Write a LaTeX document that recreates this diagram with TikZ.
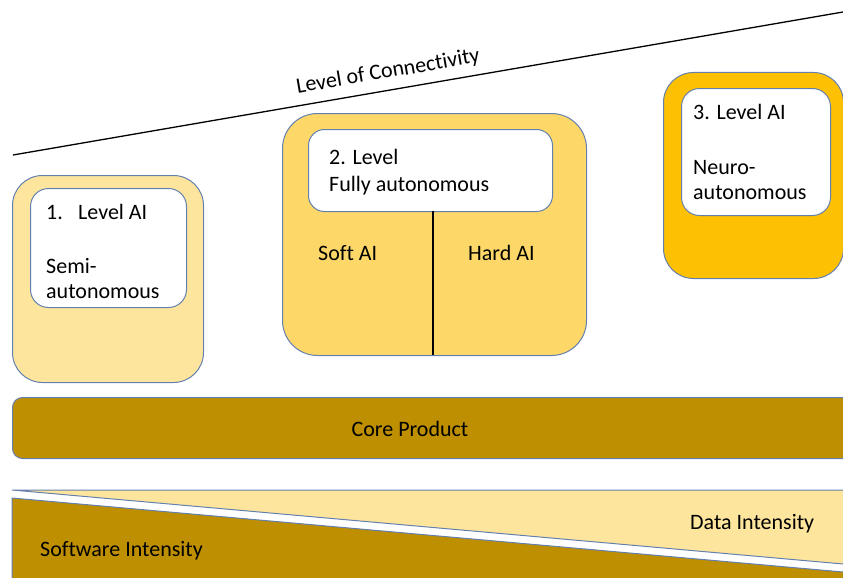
\documentclass[tikz,border=0pt]{standalone}
\usepackage{fontspec}
\setmainfont{Carlito}[Ligatures=NoCommon]
\definecolor{edge}{RGB}{100,128,175}
\definecolor{paleY}{HTML}{FDE59E}
\definecolor{midY}{HTML}{FDD868}
\definecolor{goldY}{HTML}{FEC002}
\definecolor{darkG}{HTML}{BE8F00}
\begin{document}
\begin{tikzpicture}[x=1pt,y=-1pt,
  box/.style={draw=edge, line width=1pt, rectangle, inner sep=0pt, anchor=north west},
  lbl/.style={anchor=base west, font=\fontsize{22}{26}\selectfont, inner sep=0pt, text=black},
  clbl/.style={anchor=base, font=\fontsize{22}{26}\selectfont, inner sep=0pt, text=black}]
\useasboundingbox (0,0) rectangle (843,578);
\clip (0,0) rectangle (843,578);
% connectivity line
\coordinate (c1) at (13,155);
\coordinate (c2) at (843,12);
\draw[line width=1.3pt] (c1) -- (c2);
\node[rotate=9.78, font=\fontsize{22}{26}\selectfont, inner sep=0pt] (conn) at (388,72) {Level of Connectivity};
% level 1
\node[box, fill=paleY, rounded corners=30pt, minimum width=191pt, minimum height=207pt] (L1) at (12,175) {};
\node[box, fill=white, rounded corners=18pt, minimum width=156pt, minimum height=119pt] (L1in) at (30,188) {};
\node[lbl] (t1a) at (46,219) {1.};
\node[lbl] (t1b) at (78,219) {Level AI};
\node[lbl] (t1c) at (46,273) {Semi-};
\node[lbl] (t1d) at (46,298) {autonomous};
% level 2
\node[box, fill=midY, rounded corners=35pt, minimum width=304pt, minimum height=242pt] (L2) at (282,113) {};
\node[box, fill=white, rounded corners=16pt, minimum width=244pt, minimum height=82pt] (L2in) at (308,129) {};
\coordinate (dtop) at (433,211);
\coordinate (dbot) at (433,355);
\draw[line width=1.3pt] (dtop) -- (dbot);
\node[lbl] (t2a) at (329,164) {2. Level};
\node[lbl] (t2b) at (329,191) {Fully autonomous};
\node[lbl] (soft) at (318,260) {Soft AI};
\node[lbl] (hard) at (468,260) {Hard AI};
% level 3
\node[box, fill=goldY, rounded corners=30pt, minimum width=180pt, minimum height=206pt] (L3) at (663,72) {};
\node[box, fill=white, rounded corners=18pt, minimum width=149pt, minimum height=127pt] (L3in) at (681,88) {};
\node[lbl] (t3a) at (693,119) {3. Level AI};
\node[lbl] (t3b) at (693,174) {Neuro-};
\node[lbl] (t3c) at (693,199) {autonomous};
% core product
\node[box, fill=darkG, rounded corners=10pt, minimum width=860pt, minimum height=61pt] (core) at (12,397) {};
\node[clbl] (coret) at (410,436) {Core Product};
% intensity triangles
\filldraw[fill=paleY, draw=edge, line width=1pt] (12,490) -- (860,490) -- (860,565.5) -- cycle;
\filldraw[fill=darkG, draw=edge, line width=1pt] (12,498) -- (860,573.5) -- (860,600) -- (12,600) -- cycle;
\node[lbl] (data) at (690,529) {Data Intensity};
\node[lbl] (soft2) at (40,556) {Software Intensity};
\end{tikzpicture}
\end{document}
